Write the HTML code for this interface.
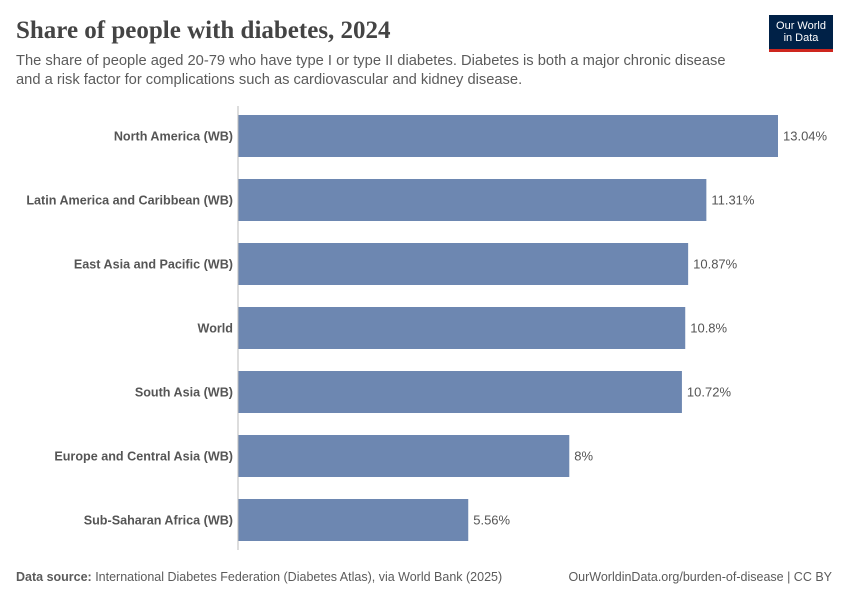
<!DOCTYPE html>
<html><head><meta charset="utf-8"><style>
body{margin:0;background:#fff;font-family:"Liberation Sans",sans-serif;}
#c{position:relative;width:850px;height:600px;overflow:hidden;background:#fff}
.t{position:absolute;white-space:nowrap}
</style></head><body><div id="c">
<div class="t" style="left:16px;top:17px;font-family:'Liberation Serif',serif;font-size:25px;font-weight:bold;color:#444">Share of people with diabetes, 2024</div>
<div class="t" style="left:16px;top:52px;font-size:14.7px;line-height:19px;color:#5b5b5b">The share of people aged 20-79 who have type I or type II diabetes. Diabetes is both a major chronic disease<br>and a risk factor for complications such as cardiovascular and kidney disease.</div>
<div style="position:absolute;left:769px;top:15px;width:64px;height:37px;background:#002147;border-bottom:3px solid #ce261e;box-sizing:border-box;color:#fff;font-size:11px;line-height:12px;text-align:center;padding-top:5px">Our World<br>in Data</div>
<svg id="s" width="850" height="600" style="position:absolute;left:0;top:0"></svg>
<div class="t" style="left:16px;top:570px;font-size:12.5px;color:#5b5b5b"><b>Data source:</b> International Diabetes Federation (Diabetes Atlas), via World Bank (2025)</div>
<div class="t" style="right:18px;top:570px;font-size:12.5px;color:#5b5b5b">OurWorldinData.org/burden-of-disease | CC BY</div>
</div>
<script>
const categories=["North America (WB)","Latin America and Caribbean (WB)","East Asia and Pacific (WB)","World","South Asia (WB)","Europe and Central Asia (WB)","Sub-Saharan Africa (WB)"];
const values=[13.04,11.31,10.87,10.8,10.72,8,5.56];
const valueLabels=["13.04%","11.31%","10.87%","10.8%","10.72%","8%","5.56%"];
const svg=document.getElementById('s');const NS='http://www.w3.org/2000/svg';
const x0=238,x1=778,maxV=Math.max(...values);
const xs=v=>x0+v/maxV*(x1-x0);
const ys=i=>115+i*64;
const bh=42;
function mk(t,a){const e=document.createElementNS(NS,t);for(const k in a)e.setAttribute(k,a[k]);svg.appendChild(e);return e;}
categories.forEach((c,i)=>{
 const r=mk('rect',{x:x0,y:ys(i),width:xs(values[i])-x0,height:bh,fill:'#6d87b1'});
 
 
 const l=mk('text',{x:x0-5,y:ys(i)+bh/2+4.5,'text-anchor':'end','font-size':12.6,'font-weight':'bold',fill:'#555','font-family':'Liberation Sans,sans-serif'});l.textContent=c;
 
 
 const v=mk('text',{x:xs(values[i])+5,y:ys(i)+bh/2+4.5,'font-size':13,fill:'#555','font-family':'Liberation Sans,sans-serif'});v.textContent=valueLabels[i];
 
 
});
const ax=mk('line',{x1:x0,x2:x0,y1:106,y2:550,stroke:'#bbb','stroke-width':1});


</script></body></html>
